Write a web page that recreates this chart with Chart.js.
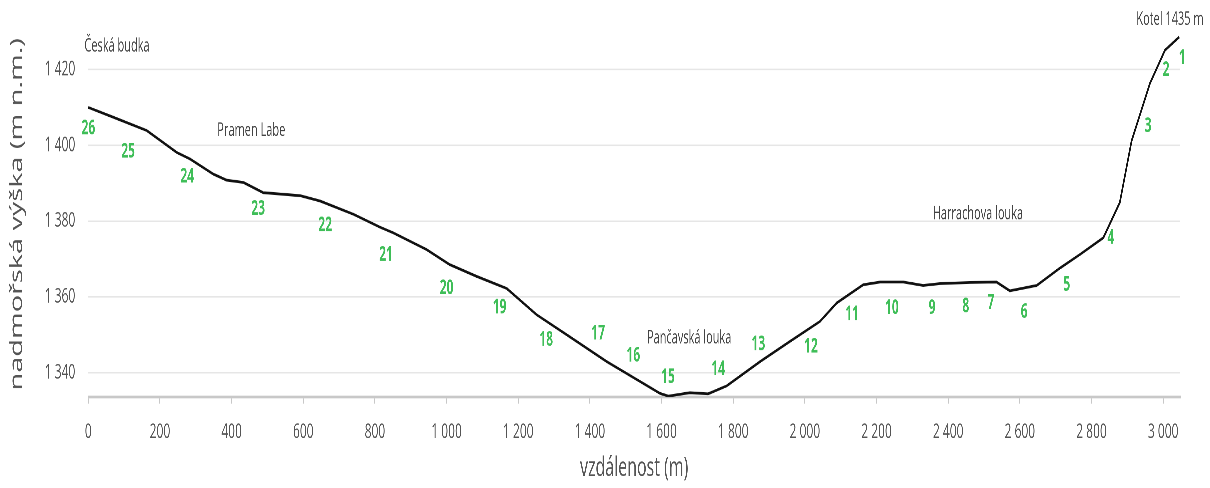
<!DOCTYPE html>
<html><head><meta charset="utf-8">
<script src="https://cdn.jsdelivr.net/npm/chart.js@4.4.1/dist/chart.umd.min.js"></script>
<style>
html{margin:0;padding:0;background:#fff;}
body{margin:0;padding:0;background:#fff;width:1210px;height:488px;position:relative;}
#wrap{position:absolute;left:0;top:0;width:1210px;height:287px;transform:scaleY(1.7003);transform-origin:0 0;}
canvas{display:block;}
</style></head><body>
<div id="wrap"><canvas id="c" width="1210" height="287" style="width:1210px;height:287px"></canvas></div>
<script>
// distance along the trail (m) and elevation (m n.m.)
const distance = [0,70,163,247,284,349,386,433,488,591,647,740,814,851,944,1009,1084,1168,1251,1335,1447,1596,1619,1679,1730,1782,1875,1958,2042,2089,2163,2210,2275,2330,2377,2461,2535,2572,2647,2712,2768,2833,2879,2912,2963,3005,3045];
const elevation = [1410,1407.4,1403.9,1398.1,1396.4,1392.4,1390.8,1390.2,1387.5,1386.7,1385.3,1381.8,1378.4,1376.9,1372.5,1368.5,1365.4,1362.2,1355.3,1350,1342.9,1334.5,1333.8,1334.7,1334.4,1336.5,1342.9,1348.2,1353.5,1358.4,1363.2,1363.9,1363.9,1363,1363.5,1363.8,1363.9,1361.6,1363,1367.6,1371.2,1375.6,1384.9,1401.2,1416.3,1425.1,1428.6];

// numbered stops (label, distance, elevation of label anchor)
const stopNumbers = ['1','2','3','4','5','6','7','8','9','10','11','12','13','14','15','16','17','18','19','20','21','22','23','24','25','26'];
const stopDistance = [3053,3008,2958,2854,2731,2612,2519,2449,2355,2243,2132,2017,1870,1758,1618,1521,1423,1278,1148,1000,831,661,474,276,111,0];
const stopElevation = [1423,1419.8,1405,1375.5,1363.1,1355.9,1358.3,1357.5,1357,1357,1355.4,1346.9,1347.4,1340.8,1338.7,1344.5,1350.3,1348.7,1357.2,1362.3,1371,1378.9,1383.2,1391.7,1398.3,1404.4];

// place names
const placeNames = ['Česká budka','Pramen Labe','Pančavská louka','Harrachova louka','Kotel 1435 m'];
const placeDistance = [80,455,1677,2483,3019];
const placeElevation = [1426.2,1403.9,1349.1,1381.8,1433.1];

// y axis ticks
const yTicks = [1340,1360,1380,1400,1420];

const F = '"Open Sans", "DejaVu Sans", sans-serif';
const fmt = v => String(v).replace(/\B(?=(\d{3})+(?!\d))/g, '\u00a0');

const annot = {
  id: 'annot',
  afterDatasetsDraw(chart) {
    const {ctx, scales: {x, y}} = chart;
    ctx.save();
    ctx.textAlign = 'center';
    ctx.textBaseline = 'middle';
    ctx.fillStyle = '#3fbe58';
    ctx.font = 'bold 12px ' + F;
    stopNumbers.forEach((n, i) => ctx.fillText(n, x.getPixelForValue(stopDistance[i]), y.getPixelForValue(stopElevation[i])));
    ctx.fillStyle = '#444';
    ctx.font = '11px ' + F;
    placeNames.forEach((t, i) => ctx.fillText(t, x.getPixelForValue(placeDistance[i]), y.getPixelForValue(placeElevation[i])));
    ctx.restore();
  }
};

new Chart(document.getElementById('c'), {
  type: 'line',
  data: {
    datasets: [{
      data: distance.map((d, i) => ({x: d, y: elevation[i]})),
      borderColor: '#111',
      borderWidth: 1.6,
      pointRadius: 0,
      tension: 0,
      fill: false
    }]
  },
  plugins: [annot],
  options: {
    responsive: false,
    animation: false,
    devicePixelRatio: 3,
    layout: {padding: {top: 18.6, right: 30, left: 0, bottom: 0}},
    plugins: {legend: {display: false}, tooltip: {enabled: false}},
    scales: {
      x: {
        type: 'linear', min: 0, max: 3047,
        afterFit(s) { s.height = 53.6; s.paddingLeft = 0; s.paddingRight = 0; },
        ticks: {stepSize: 200, includeBounds: false, padding: 9.5, color: '#555', maxRotation: 0, autoSkip: false,
                font: {family: F, size: 12}, callback: v => fmt(v)},
        grid: {drawOnChartArea: false, drawTicks: true, tickLength: 4, color: '#c8c8c8', lineWidth: 1},
        border: {display: true, color: '#c8c8c8', width: 1.6},
        title: {display: true, text: 'vzdálenost (m)', color: '#555', font: {family: F, size: 16}, padding: {top: 2, bottom: 2}}
      },
      y: {
        min: 1333.6, max: 1430,
        afterFit(s) { s.width = 88.3; s.paddingTop = 0; s.paddingBottom = 0; },
        afterBuildTicks(s) { s.ticks = yTicks.map(v => ({value: v})); },
        ticks: {padding: 13, color: '#555', font: {family: F, size: 12}, callback: v => fmt(v)},
        grid: {drawTicks: false, color: '#e6e6e6', lineWidth: 1},
        border: {display: false},
        title: {display: true, text: 'nadmořská výška (m n.m.)', color: '#555', font: {family: F, size: 17}, padding: {top: 7, bottom: 0}}
      }
    }
  }
});
</script>
</body></html>
